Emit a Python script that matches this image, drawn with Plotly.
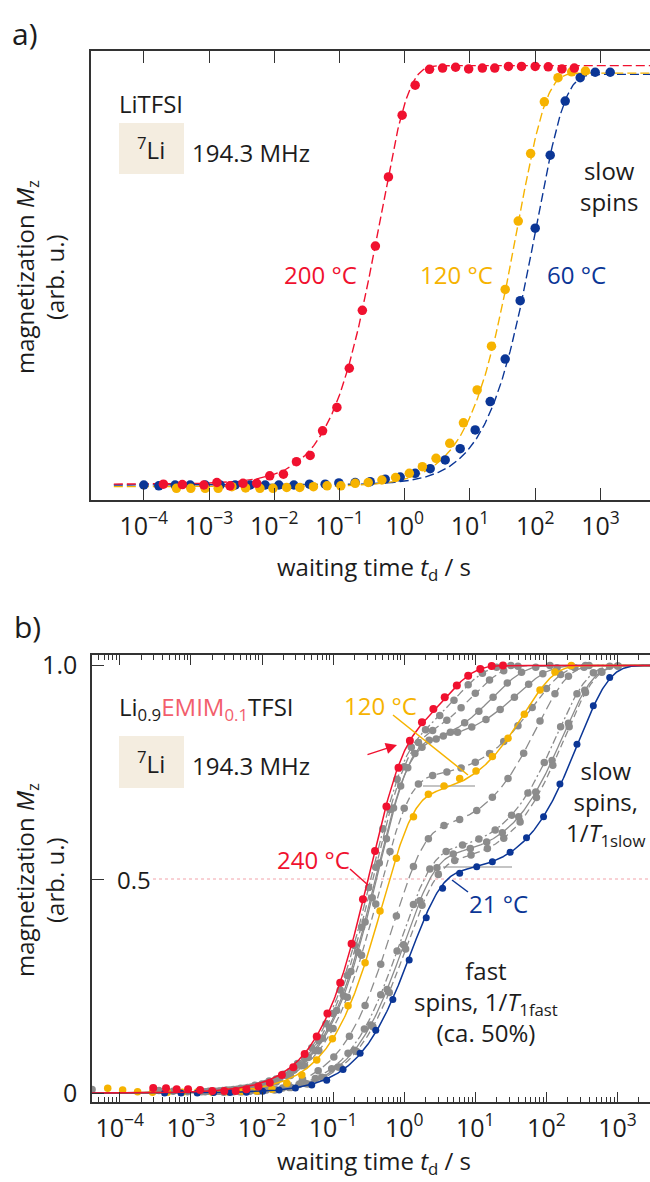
import numpy as np
import plotly.graph_objects as go

# ======================= DATA =======================
# Panel a: LiTFSI, 7Li, 194.3 MHz  (log10 waiting time / s, normalised Mz)
a_red_logt = [-3.70, -3.41, -3.08, -2.88, -2.68, -2.48, -2.27, -2.07, -1.86, -1.66, -1.45, -1.26, -1.04, -0.85,
              -0.65, -0.45, -0.25, -0.04, 0.16, 0.38, 0.58, 0.78, 0.98, 1.19, 1.38, 1.59, 1.79, 2.00, 2.20, 2.41, 2.60]
a_red_mz = [0.002, 0.001, 0.000, 0.006, -0.002, 0.004, 0.004, 0.022, 0.026, 0.056, 0.071, 0.130, 0.186, 0.280,
            0.419, 0.573, 0.739, 0.887, 0.959, 0.997, 1.000, 1.002, 0.998, 1.000, 1.000, 1.004, 1.004, 1.004, 1.003, 0.998, 1.000]
a_yel_logt = [-3.50, -3.28, -3.06, -2.86, -2.65, -2.44, -2.22, -2.02, -1.81, -1.61, -1.40, -1.19, -0.98, -0.76,
              -0.56, -0.35, -0.14, 0.07, 0.27, 0.48, 0.69, 0.90, 1.11, 1.33, 1.54, 1.74, 1.93, 2.14, 2.35, 2.56, 2.77]
a_yel_mz = [-0.008, -0.008, -0.008, -0.008, -0.004, -0.007, -0.008, -0.008, -0.006, -0.006, -0.004, -0.002, -0.002, 0.004,
            0.006, 0.012, 0.018, 0.028, 0.044, 0.064, 0.100, 0.149, 0.228, 0.333, 0.469, 0.633, 0.795, 0.919, 0.977, 0.991, 0.993]
a_blu_logt = [-4.00, -3.77, -3.52, -3.29, -3.06, -2.83, -2.60, -2.37, -2.14, -1.93, -1.70, -1.46, -1.22, -1.01, -0.76,
              -0.53, -0.30, -0.07, 0.16, 0.39, 0.62, 0.85, 1.08, 1.31, 1.54, 1.77, 2.00, 2.23, 2.46, 2.69, 2.92, 3.15]
a_blu_mz = [0.000, -0.002, 0.000, 0.000, 0.000, 0.000, 0.000, 0.000, 0.000, 0.000, 0.000, 0.002, 0.002, 0.005, 0.006,
            0.008, 0.014, 0.019, 0.028, 0.039, 0.060, 0.087, 0.132, 0.200, 0.302, 0.442, 0.616, 0.791, 0.921, 0.977, 0.990, 0.990]
# single-exponential fits (red 200 °C, yellow 120 °C, blue 60 °C)
a_fit_amp = [1.004, 0.992, 0.985]
a_fit_off = [0.002, -0.004, 0.000]
a_fit_logT1 = [-0.38, 1.735, 2.02]

# Panel b: Li0.9EMIM0.1TFSI
b_red_logt = [-3.53, -3.35, -3.20, -3.04, -2.87, -2.70, -2.53, -2.37, -2.22, -2.05, -1.89, -1.72, -1.56, -1.40, -1.23,
              -1.08, -0.90, -0.74, -0.58, -0.41, -0.25, -0.08, 0.08, 0.25, 0.41, 0.57, 0.74, 0.90, 1.07, 1.23, 1.39]
b_red_mz = [0.012, 0.011, 0.009, 0.009, 0.007, 0.005, 0.005, 0.005, 0.009, 0.015, 0.024, 0.042, 0.060, 0.091, 0.132,
            0.186, 0.258, 0.349, 0.453, 0.566, 0.670, 0.761, 0.824, 0.867, 0.898, 0.926, 0.953, 0.976, 0.992, 0.999, 1.000]
b_yel_logt = [-4.17, -3.96, -3.75, -3.54, -3.33, -3.12, -2.91, -2.70, -2.49, -2.28, -2.07, -1.86, -1.65, -1.44, -1.23,
              -1.01, -0.79, -0.55, -0.34, -0.11, 0.13, 0.34, 0.56, 0.78, 1.01, 1.24, 1.46, 1.69, 1.91, 2.12, 2.35]
b_yel_mz = [0.011, 0.007, 0.003, 0.002, 0.002, 0.002, 0.002, 0.002, 0.003, 0.004, 0.005, 0.009, 0.023, 0.042, 0.077,
            0.127, 0.204, 0.305, 0.426, 0.549, 0.646, 0.699, 0.718, 0.736, 0.753, 0.787, 0.830, 0.886, 0.943, 0.985, 1.000]
b_blu_logt = [-3.37, -3.14, -2.91, -2.68, -2.45, -2.22, -1.99, -1.76, -1.53, -1.30, -1.09, -0.86, -0.62, -0.40,
              -0.16, 0.07, 0.31, 0.54, 0.78, 1.02, 1.24, 1.49, 1.72, 1.96, 2.19, 2.43, 2.66, 2.89]
b_blu_mz = [0.000, 0.000, 0.000, 0.001, 0.001, 0.002, 0.004, 0.007, 0.012, 0.019, 0.030, 0.055, 0.093, 0.147,
            0.219, 0.311, 0.410, 0.479, 0.514, 0.529, 0.541, 0.563, 0.597, 0.646, 0.723, 0.816, 0.906, 0.972]

# grey curves (intermediate temperatures)
g1_logt = [-2.9, -2.7, -2.5, -2.3, -2.1, -1.9, -1.7, -1.5, -1.3, -1.1, -0.9, -0.7, -0.5, -0.3, -0.1, 0.1, 0.3, 0.5, 0.7, 0.9, 1.1, 1.3, 1.5]
g1_mz = [0.003, 0.005, 0.007, 0.011, 0.018, 0.028, 0.044, 0.069, 0.106, 0.162, 0.241, 0.345, 0.481, 0.618, 0.734, 0.809, 0.850, 0.883, 0.919, 0.955, 0.982, 0.996, 1.0]
g2_logt = [-2.8, -2.6, -2.4, -2.2, -2.0, -1.8, -1.6, -1.4, -1.2, -1.0, -0.8, -0.6, -0.4, -0.2, 0.0, 0.2, 0.4, 0.6, 0.8, 1.0, 1.2, 1.4, 1.6]
g2_mz = [0.003, 0.005, 0.008, 0.013, 0.021, 0.033, 0.051, 0.080, 0.123, 0.186, 0.275, 0.388, 0.528, 0.663, 0.763, 0.820, 0.848, 0.872, 0.901, 0.935, 0.966, 0.988, 0.998]
g3_logt = [-2.75, -2.55, -2.35, -2.15, -1.95, -1.75, -1.55, -1.35, -1.15, -0.95, -0.75, -0.55, -0.35, -0.15, 0.05, 0.25, 0.45,
           0.65, 0.85, 1.05, 1.25, 1.45, 1.65, 1.85, 2.05]
g3_mz = [0.004, 0.006, 0.009, 0.014, 0.022, 0.034, 0.054, 0.083, 0.128, 0.193, 0.284, 0.400, 0.538, 0.667, 0.761, 0.809, 0.828,
         0.844, 0.866, 0.893, 0.926, 0.959, 0.984, 0.996, 1.0]
g4_logt = [-3.45, -3.25, -3.05, -2.85, -2.65, -2.45, -2.25, -2.05, -1.85, -1.65, -1.45, -1.25, -1.05, -0.85, -0.65, -0.45, -0.25,
           -0.05, 0.15, 0.35, 0.55, 0.75, 0.95, 1.15, 1.35, 1.55, 1.75, 1.95, 2.15, 2.35, 2.55]
g4_mz = [0.006, 0.004, 0.003, 0.003, 0.004, 0.007, 0.011, 0.017, 0.026, 0.041, 0.064, 0.099, 0.152, 0.227, 0.329, 0.457, 0.595,
         0.718, 0.794, 0.825, 0.835, 0.844, 0.856, 0.874, 0.897, 0.926, 0.956, 0.981, 0.995, 0.999, 1.0]
g5_logt = [-2.6, -2.4, -2.2, -2.0, -1.8, -1.6, -1.4, -1.2, -1.0, -0.8, -0.6, -0.4, -0.2, 0.0, 0.2, 0.4, 0.6, 0.8, 1.0, 1.2,
           1.4, 1.6, 1.8, 2.0, 2.2, 2.4, 2.6]
g5_mz = [0.004, 0.007, 0.011, 0.017, 0.026, 0.041, 0.064, 0.099, 0.151, 0.224, 0.322, 0.442, 0.565, 0.666, 0.723, 0.743, 0.751,
         0.760, 0.774, 0.794, 0.822, 0.859, 0.902, 0.946, 0.979, 0.995, 1.0]
g6_logt = [-4.39, -2.53, -2.31, -2.09, -1.87, -1.65, -1.43, -1.21, -0.99, -0.77, -0.55, -0.33, -0.11, 0.13, 0.34, 0.56, 0.78,
           1.02, 1.24, 1.46, 1.68, 1.91, 2.12, 2.31, 2.53]
g6_mz = [0.008, 0.003, 0.004, 0.007, 0.012, 0.020, 0.032, 0.052, 0.084, 0.133, 0.205, 0.301, 0.414, 0.530, 0.595, 0.626, 0.640,
         0.661, 0.692, 0.736, 0.795, 0.870, 0.934, 0.975, 0.996]
g7_logt = [-2.40, -2.17, -1.94, -1.71, -1.48, -1.25, -1.02, -0.79, -0.56, -0.33, -0.10, 0.13, 0.36, 0.59, 0.82, 1.05, 1.28,
           1.51, 1.74, 1.97, 2.20, 2.43, 2.66, 2.89]
g7_mz = [0.003, 0.004, 0.007, 0.012, 0.020, 0.034, 0.057, 0.093, 0.150, 0.230, 0.332, 0.441, 0.524, 0.565, 0.580, 0.594, 0.615,
         0.650, 0.702, 0.773, 0.857, 0.934, 0.983, 0.998]
g8_logt = [-2.54, -2.31, -2.08, -1.85, -1.62, -1.39, -1.16, -0.93, -0.70, -0.47, -0.24, -0.01, 0.22, 0.46, 0.69, 0.93, 1.16,
           1.38, 1.61, 1.85, 2.08, 2.31, 2.54, 2.77, 3.00]
g8_mz = [0.002, 0.003, 0.005, 0.008, 0.013, 0.022, 0.037, 0.061, 0.100, 0.159, 0.242, 0.347, 0.450, 0.527, 0.559, 0.572, 0.587,
         0.609, 0.646, 0.704, 0.778, 0.865, 0.942, 0.986, 0.999]
g9_logt = [-2.28, -2.05, -1.82, -1.59, -1.36, -1.13, -0.90, -0.67, -0.44, -0.21, 0.02, 0.25, 0.48, 0.71, 0.94, 1.17, 1.40,
           1.63, 1.86, 2.09, 2.32, 2.55, 2.78, 3.01]
g9_mz = [0.003, 0.004, 0.007, 0.013, 0.021, 0.036, 0.060, 0.097, 0.155, 0.235, 0.337, 0.439, 0.511, 0.544, 0.557, 0.572, 0.596,
         0.634, 0.691, 0.767, 0.857, 0.937, 0.984, 0.999]

# bi-exponential fit parameters: fast fraction, log10 T1fast, log10 T1slow
b_names = ["g1", "g2", "g3", "g4", "g5", "g6", "g7", "g8", "g9", "120 °C", "21 °C", "240 °C"]
b_frac = [0.78, 0.80, 0.80, 0.82, 0.735, 0.61, 0.56, 0.55, 0.535, 0.69, 0.512, 0.78]
b_logTf = [-0.46, -0.42, -0.39, -0.36, -0.36, -0.16, -0.05, 0.00, 0.03, -0.31, 0.09, -0.49]
b_logTs = [0.70, 0.95, 1.25, 1.60, 1.80, 1.87, 2.15, 2.23, 2.25, 1.68, 2.45, 0.55]

x_ticks = [-4, -3, -2, -1, 0, 1, 2, 3]

# ======================= STYLE =======================
RED = "#F0112F"
YEL = "#F6B300"
BLU = "#0B3696"
GRY = "#8C8C8C"
INK = "#1c1c1c"
FONT = "Open Sans"
FS = 24
W, H = 650, 1182

def px(x):
    return x / W

def py(y):
    return 1 - y / H

def relax1(lt, amp, off, logT):
    return off + amp * (1 - np.exp(-np.power(10.0, lt - logT)))

def relax2(lt, f, lTf, lTs):
    return f * (1 - np.exp(-np.power(10.0, lt - lTf))) + (1 - f) * (1 - np.exp(-np.power(10.0, lt - lTs)))

fig = go.Figure()

# ---------- panel a ----------
lt_a = np.linspace(-4.46, 3.80, 500)
a_cols = [RED, YEL, BLU]
for i in [2, 1, 0]:
    fig.add_trace(go.Scatter(x=10 ** lt_a, y=relax1(lt_a, a_fit_amp[i], a_fit_off[i], a_fit_logT1[i]),
                             mode="lines", line=dict(color=a_cols[i], width=1.4, dash="9px,4px"),
                             xaxis="x", yaxis="y", showlegend=False, hoverinfo="skip"))
for lt, mz, c in [(a_blu_logt, a_blu_mz, BLU), (a_yel_logt, a_yel_mz, YEL), (a_red_logt, a_red_mz, RED)]:
    fig.add_trace(go.Scatter(x=10 ** np.array(lt), y=mz, mode="markers",
                             marker=dict(color=c, size=9.5, line=dict(width=0)),
                             xaxis="x", yaxis="y", showlegend=False))

# ---------- panel b ----------
lt_b = np.linspace(-4.45, 3.5, 600)
grey_pts = [(g1_logt, g1_mz), (g2_logt, g2_mz), (g3_logt, g3_mz), (g4_logt, g4_mz), (g5_logt, g5_mz),
            (g6_logt, g6_mz), (g7_logt, g7_mz), (g8_logt, g8_mz), (g9_logt, g9_mz)]
grey_dash = ["8px,3px,2px,3px", "7px,4px", "solid", "solid", "7px,4px", "10px,5px", "8px,3px,2px,3px", "solid", "7px,4px"]
for i, (lt, mz) in enumerate(grey_pts):
    fig.add_trace(go.Scatter(x=10 ** lt_b, y=relax2(lt_b, b_frac[i], b_logTf[i], b_logTs[i]), mode="lines",
                             line=dict(color=GRY, width=1.3, dash=grey_dash[i]),
                             xaxis="x2", yaxis="y2", showlegend=False, hoverinfo="skip"))
    fig.add_trace(go.Scatter(x=10 ** np.array(lt), y=mz, mode="markers",
                             marker=dict(color=GRY, size=7.5, line=dict(width=0)),
                             xaxis="x2", yaxis="y2", showlegend=False))

for i, lt, mz, c, s in [(9, b_yel_logt, b_yel_mz, YEL, 7.5), (10, b_blu_logt, b_blu_mz, BLU, 7.0),
                        (11, b_red_logt, b_red_mz, RED, 8.0)]:
    fig.add_trace(go.Scatter(x=10 ** lt_b, y=relax2(lt_b, b_frac[i], b_logTf[i], b_logTs[i]), mode="lines",
                             line=dict(color=c, width=1.5), xaxis="x2", yaxis="y2",
                             showlegend=False, hoverinfo="skip"))
    fig.add_trace(go.Scatter(x=10 ** np.array(lt), y=mz, mode="markers",
                             marker=dict(color=c, size=s, line=dict(width=0)),
                             xaxis="x2", yaxis="y2", showlegend=False))

# ---------- axes ----------
tick_text = ["10<sup>−%d</sup>" % (-k) if k < 0 else "10<sup>%d</sup>" % k for k in x_ticks]
tick_vals = [10.0 ** k for k in x_ticks]
minor_vals = [m * 10.0 ** k for k in range(-5, 4) for m in range(2, 10)]

common_x = dict(type="log", showline=True, linecolor="#333", linewidth=1.5, mirror="ticks",
                ticks="inside", tickcolor="#333", tickwidth=1.4, tickvals=tick_vals, ticktext=tick_text,
                tickfont=dict(family=FONT, size=25, color=INK), showgrid=False, zeroline=False,
                ticklabelstandoff=3, automargin=False)

fig.update_layout(
    width=W, height=H, margin=dict(l=0, r=0, t=0, b=0),
    paper_bgcolor="white", plot_bgcolor="white",
    font=dict(family=FONT, size=FS, color=INK),
    xaxis=dict(domain=[px(91), 1.0], anchor="y", range=[-4.81, 3.76], ticklen=12, **common_x),
    yaxis=dict(domain=[py(500), py(51)], anchor="x", range=[-0.036, 1.041], showline=True, linecolor="#333",
               linewidth=1.5, ticks="", showticklabels=False, showgrid=False, zeroline=False, automargin=False),
    xaxis2=dict(domain=[px(92), 1.0], anchor="y2", range=[-4.391, 3.457], ticklen=10,
                minor=dict(tickvals=minor_vals, ticks="inside", ticklen=5, tickwidth=1.2, tickcolor="#333", showgrid=False),
                **common_x),
    yaxis2=dict(domain=[py(1102), py(655)], anchor="x2", range=[-0.021, 1.0246], showline=True, linecolor="#333",
                linewidth=1.5, ticks="inside", ticklen=12, tickwidth=1.4, tickcolor="#333",
                tickvals=[0, 0.5, 1.0], ticktext=["0", " ", "1.0"], tickfont=dict(family=FONT, size=25, color=INK),
                ticklabelstandoff=8, showgrid=False, zeroline=False, automargin=False),
)

# ---------- decorations ----------
shapes = []
def pline(x0, y0, x1, y1, color, width=1.5, dash="solid", layer="above"):
    shapes.append(dict(type="line", xref="paper", yref="paper", x0=px(x0), y0=py(y0), x1=px(x1), y1=py(y1),
                       line=dict(color=color, width=width, dash=dash), layer=layer))

# 7Li boxes
for (y0, y1) in [(123, 174), (736, 788)]:
    shapes.append(dict(type="rect", xref="paper", yref="paper", x0=px(119), x1=px(184), y0=py(y1), y1=py(y0),
                       fillcolor="#F4EDE0", line=dict(width=0), layer="below"))
pline(153, 879, 650, 879, "#F2A3AA", 1, "dot", "below")
pline(423, 786, 475, 786, "#C4C4C4", 2, "solid", "below")
pline(443, 867, 512, 867, "#C4C4C4", 2, "solid", "below")
pline(393, 715, 468, 775, YEL, 1.5)
pline(350, 869, 368, 885, RED, 1.5)
pline(452, 880, 468, 892, BLU, 1.5)
fig.update_layout(shapes=shapes)

ann = []
def txt(x, y, s, size=FS, color=INK, xanchor="center", angle=0):
    ann.append(dict(xref="paper", yref="paper", x=px(x), y=py(y), text=s, showarrow=False,
                    xanchor=xanchor, yanchor="middle", textangle=angle,
                    font=dict(family=FONT, size=size, color=color)))

txt(25, 33, "a)", 30, xanchor="center")
txt(27, 626, "b)", 30, xanchor="center")
# panel a
txt(117, 103, "LiTFSI", xanchor="left")
txt(151, 149, "<sup>7</sup>Li")
txt(190, 152, "194.3 MHz", xanchor="left")
txt(609, 186, "slow<br>spins")
txt(320, 274, "200 °C", color=RED)
txt(456, 274, "120 °C", color=YEL)
txt(576, 274, "60 °C", color=BLU)
txt(26, 277, "magnetization <i>M</i><sub>z</sub>", angle=-90)
txt(54, 277, "(arb. u.)", angle=-90)
txt(374, 568, "waiting time <i>t</i><sub>d</sub> / s")
# panel b
txt(117, 708, "Li<sub>0.9</sub><span style='color:#F25E6C'>EMIM<sub>0.1</sub></span>TFSI", xanchor="left")
txt(151, 762, "<sup>7</sup>Li")
txt(190, 765, "194.3 MHz", xanchor="left")
txt(380, 705, "120 °C", color=YEL)
txt(313, 859, "240 °C", color=RED)
txt(498, 903, "21 °C", color=BLU)
txt(605, 803, "slow<br>spins,<br>1/<i>T</i><sub>1slow</sub>")
txt(486, 1001, "fast<br>spins, 1/<i>T</i><sub>1fast</sub><br>(ca. 50%)")
txt(115, 879, "0.5", xanchor="left")
txt(26, 880, "magnetization <i>M</i><sub>z</sub>", angle=-90)
txt(54, 880, "(arb. u.)", angle=-90)
txt(374, 1162, "waiting time <i>t</i><sub>d</sub> / s")

# red arrow
ann.append(dict(xref="paper", yref="paper", x=px(397), y=py(745), ax=-34, ay=11, axref="pixel", ayref="pixel",
                text=" ", showarrow=True, arrowhead=2, arrowsize=1.6, arrowwidth=1.4, arrowcolor=RED))
fig.update_layout(annotations=ann)

page_fix = ("document.documentElement.style.margin='0';document.body.style.margin='0';"
            "document.body.style.padding='0';document.documentElement.style.overflow='hidden';"
            "document.body.style.overflow='hidden';")
fig.write_html("out.html", config={"displayModeBar": False}, post_script=page_fix)
